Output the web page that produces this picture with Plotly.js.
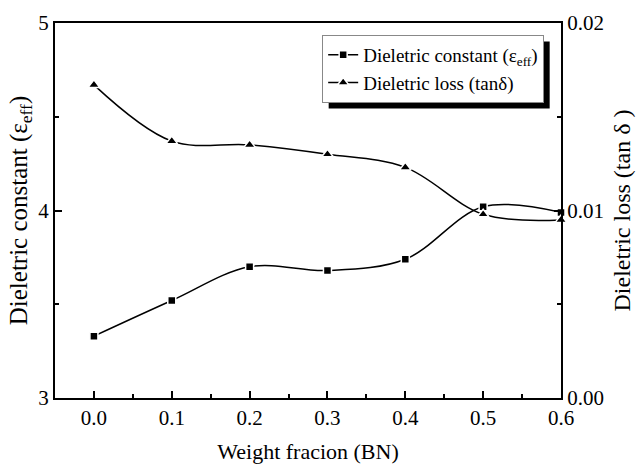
<!DOCTYPE html>
<html>
<head>
<meta charset="utf-8">
<script src="https://cdn.plot.ly/plotly-3.0.1.min.js"></script>
<style>html,body{margin:0;padding:0;background:#fff;}#chart{width:637px;height:468px;}</style>
</head>
<body>
<div id="chart"></div>
<script>
var weightFraction = [0.0, 0.1, 0.2, 0.3, 0.4, 0.5, 0.6];
var dielectricConstant = [3.33, 3.52, 3.70, 3.68, 3.74, 4.02, 3.99];
var dielectricLoss = [0.0167, 0.0137, 0.0135, 0.0130, 0.0123, 0.0098, 0.0095];
var xTickVals = [0.0, 0.1, 0.2, 0.3, 0.4, 0.5, 0.6];
var xTickText = ["0.0", "0.1", "0.2", "0.3", "0.4", "0.5", "0.6"];
var yTickVals = [3, 4, 5];
var y2TickVals = [0.00, 0.01, 0.02];
var y2TickText = ["0.00", "0.01", "0.02"];

var fnt = "Liberation Serif, Times New Roman, serif";
var M = {l: 55, r: 76, t: 23, b: 70};

var traces = [
  {
    x: weightFraction, y: dielectricConstant, type: "scatter", mode: "lines+markers",
    name: "Dieletric constant (ε<sub>eff</sub>)",
    line: {color: "#000", width: 1.5, shape: "spline", smoothing: 1},
    marker: {symbol: "square", size: 8, color: "#000", line: {color: "#fff", width: 1.5}},
    cliponaxis: false
  },
  {
    x: weightFraction, y: dielectricLoss, type: "scatter", mode: "lines+markers",
    name: "Dieletric loss (tanδ)", yaxis: "y2",
    line: {color: "#000", width: 1.5, shape: "spline", smoothing: 1},
    marker: {symbol: "triangle-up", size: 10, color: "#000", line: {color: "#fff", width: 1.5}},
    cliponaxis: false
  }
];

var layout = {
  width: 637, height: 468,
  margin: M,
  paper_bgcolor: "#fff", plot_bgcolor: "#fff",
  font: {family: fnt, size: 21, color: "#000"},
  showlegend: true,
  legend: {
    x: 0.528, y: 0.968, xanchor: "left", yanchor: "top",
    bgcolor: "#fff", bordercolor: "#888", borderwidth: 1,
    font: {family: fnt, size: 19, color: "#000"},
    itemwidth: 30, tracegroupgap: 0
  },
  xaxis: {
    range: [-0.05, 0.6], tickmode: "array", tickvals: xTickVals, ticktext: xTickText,
    ticks: "inside", ticklen: 7, tickwidth: 2, tickcolor: "#000",
    minor: {dtick: 0.05, ticks: "inside", ticklen: 4, tickwidth: 2, tickcolor: "#000"},
    showline: true, linecolor: "#000", linewidth: 2, mirror: true,
    showgrid: false, zeroline: false,
    tickfont: {family: fnt, size: 21, color: "#000"},
    title: {text: "Weight fracion (BN)", font: {family: fnt, size: 22, color: "#000"}, standoff: 14}
  },
  yaxis: {
    range: [3, 5], tickmode: "array", tickvals: yTickVals,
    ticks: "inside", ticklen: 7, tickwidth: 2, tickcolor: "#000",
    minor: {dtick: 0.5, ticks: "inside", ticklen: 4, tickwidth: 2, tickcolor: "#000"},
    showline: true, linecolor: "#000", linewidth: 2, mirror: true,
    showgrid: false, zeroline: false,
    tickfont: {family: fnt, size: 21, color: "#000"},
    title: {text: "Dieletric constant (ε<sub>eff</sub>)", font: {family: fnt, size: 25, color: "#000"}, standoff: 4}
  },
  yaxis2: {
    range: [0, 0.02], overlaying: "y", side: "right",
    tickmode: "array", tickvals: y2TickVals, ticktext: y2TickText,
    ticks: "inside", ticklen: 7, tickwidth: 2, tickcolor: "#000",
    minor: {dtick: 0.005, ticks: "inside", ticklen: 4, tickwidth: 2, tickcolor: "#000"},
    showline: true, linecolor: "#000", linewidth: 2,
    showgrid: false, zeroline: false,
    tickfont: {family: fnt, size: 21, color: "#000"},
    title: {text: "Dieletric loss (tan δ )", font: {family: fnt, size: 24, color: "#000"}, standoff: 10}
  },
  shapes: []
};

Plotly.newPlot("chart", traces, layout, {displayModeBar: false, staticPlot: true}).then(function (gd) {
  // Drop shadow behind the legend box (offset down-right), like the original figure
  var bg = gd.querySelector(".legend .bg");
  var root = gd.getBoundingClientRect();
  if (!bg) return;
  var r = bg.getBoundingClientRect();
  var pw = 637 - M.l - M.r, ph = 468 - M.t - M.b;
  var off = 6;
  var x0 = (r.left - root.left + off - M.l) / pw;
  var x1 = (r.right - root.left + off - M.l) / pw;
  var y1 = (468 - M.b - (r.top - root.top + off)) / ph;
  var y0 = (468 - M.b - (r.bottom - root.top + off)) / ph;
  return Plotly.relayout(gd, {shapes: [{type: "rect", xref: "paper", yref: "paper",
    x0: x0, x1: x1, y0: y0, y1: y1, fillcolor: "#000", line: {width: 0}, layer: "above"}]});
});
</script>
</body>
</html>
